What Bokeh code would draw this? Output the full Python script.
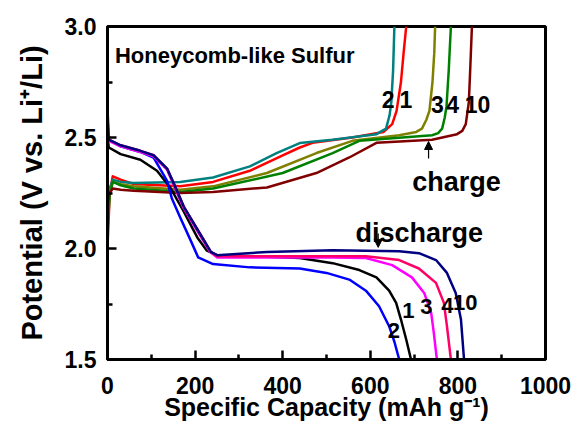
from bokeh.plotting import figure
from bokeh.models import Range1d, FixedTicker, PrintfTickFormatter, Label, Arrow, NormalHead
from bokeh.embed import file_html
from bokeh.resources import INLINE

# ---------------- data ----------------
# discharge curves: capacity (mAh/g) and potential (V)
d1_cap = [0, 3, 30, 75, 113, 143, 173, 205, 227, 250, 330, 439, 514, 575, 614, 643, 659, 670, 682, 693]
d1_v = [2.50, 2.455, 2.425, 2.40, 2.35, 2.275, 2.17, 2.05, 1.99, 1.97, 1.965, 1.957, 1.934, 1.903, 1.87, 1.81, 1.755, 1.68, 1.59, 1.5]

d2_cap = [0, 3, 30, 75, 105, 136, 147, 166, 189, 207, 241, 325, 439, 500, 552, 590, 620, 643, 655, 666]
d2_v = [2.63, 2.49, 2.46, 2.435, 2.41, 2.305, 2.225, 2.14, 2.04, 1.96, 1.93, 1.915, 1.91, 1.89, 1.86, 1.81, 1.74, 1.65, 1.58, 1.5]

d3_cap = [0, 3, 30, 75, 105, 136, 150, 173, 205, 234, 250, 400, 514, 590, 650, 695, 723, 739, 745, 752]
d3_v = [2.60, 2.485, 2.46, 2.435, 2.415, 2.355, 2.29, 2.185, 2.08, 1.985, 1.96, 1.96, 1.96, 1.957, 1.925, 1.87, 1.80, 1.71, 1.62, 1.5]

d4_cap = [0, 3, 30, 75, 105, 136, 152, 175, 207, 236, 250, 439, 590, 666, 711, 750, 768, 775, 784]
d4_v = [2.58, 2.49, 2.465, 2.44, 2.42, 2.36, 2.29, 2.185, 2.08, 1.985, 1.965, 1.965, 1.965, 1.948, 1.91, 1.845, 1.755, 1.65, 1.5]

d10_cap = [0, 3, 30, 75, 105, 136, 152, 175, 207, 236, 250, 364, 514, 666, 711, 750, 775, 795, 807, 814]
d10_v = [2.56, 2.49, 2.465, 2.44, 2.42, 2.36, 2.29, 2.185, 2.08, 1.985, 1.97, 1.984, 1.992, 1.988, 1.979, 1.948, 1.89, 1.80, 1.68, 1.5]

# charge curves
c1_cap = [0, 5, 12, 30, 60, 166, 241, 325, 400, 439, 468, 559, 630, 650, 660, 670, 676, 682]
c1_v = [2.0, 2.25, 2.325, 2.31, 2.29, 2.28, 2.30, 2.35, 2.42, 2.455, 2.476, 2.50, 2.525, 2.56, 2.62, 2.75, 2.88, 3.0]

c2_cap = [0, 5, 12, 30, 60, 166, 241, 325, 386, 439, 514, 614, 636, 644, 648, 652, 655]
c2_v = [2.15, 2.27, 2.31, 2.30, 2.295, 2.30, 2.32, 2.37, 2.43, 2.475, 2.49, 2.515, 2.54, 2.6, 2.66, 2.8, 3.0]

c3_cap = [0, 5, 12, 30, 60, 166, 241, 364, 477, 559, 666, 705, 718, 728, 735, 742, 746, 748]
c3_v = [2.12, 2.25, 2.30, 2.29, 2.28, 2.265, 2.28, 2.34, 2.43, 2.485, 2.51, 2.525, 2.54, 2.58, 2.62, 2.75, 2.88, 3.0]

c4_cap = [0, 5, 12, 30, 60, 166, 241, 400, 514, 575, 741, 755, 764, 770, 774, 779, 784]
c4_v = [2.08, 2.24, 2.30, 2.285, 2.27, 2.255, 2.27, 2.34, 2.43, 2.485, 2.51, 2.52, 2.54, 2.59, 2.64, 2.8, 3.0]

c10_cap = [0, 5, 12, 30, 60, 166, 241, 364, 477, 552, 614, 741, 798, 810, 818, 825, 828, 832]
c10_v = [2.2, 2.25, 2.27, 2.265, 2.26, 2.25, 2.255, 2.275, 2.34, 2.41, 2.476, 2.49, 2.515, 2.53, 2.56, 2.66, 2.8, 3.0]

x_ticks = [0, 200, 400, 600, 800, 1000]
x_minor = [100, 300, 500, 700, 900]
y_ticks = [1.5, 2.0, 2.5, 3.0]
y_minor = [1.75, 2.25, 2.75]

FONT = "Liberation Sans"

p = figure(width=580, height=426, output_backend="svg", toolbar_location=None,
           x_range=Range1d(0, 1000), y_range=Range1d(1.5, 3.0),
           min_border_left=107, min_border_right=35, min_border_top=26, min_border_bottom=67)
p.grid.visible = False
p.outline_line_color = "black"
p.outline_line_width = 3
p.background_fill_color = "white"
p.border_fill_color = "white"

p.xaxis.ticker = FixedTicker(ticks=x_ticks, minor_ticks=x_minor)
p.yaxis.ticker = FixedTicker(ticks=y_ticks, minor_ticks=y_minor)
p.yaxis.formatter = PrintfTickFormatter(format="%.1f")
for ax in (p.xaxis[0], p.yaxis[0]):
    ax.axis_line_width = 3
    ax.major_tick_in = 9
    ax.major_tick_out = 0
    ax.minor_tick_in = 5
    ax.minor_tick_out = 0
    ax.major_tick_line_width = 2.5
    ax.minor_tick_line_width = 2.5
    ax.major_label_text_font = FONT
    ax.major_label_text_font_style = "bold"
    ax.major_label_text_font_size = "23px"
    ax.major_label_text_color = "black"
    ax.axis_label_text_font = FONT
    ax.axis_label_text_font_style = "bold"
    ax.axis_label_text_color = "black"
p.xaxis.major_label_standoff = 17
p.yaxis.major_label_standoff = 11
p.xaxis.axis_label = "Specific Capacity (mAh g\u207b\u00b9)"
p.xaxis.axis_label_text_font_size = "25px"
p.xaxis.axis_label_standoff = -4
p.yaxis.axis_label = "Potential (V vs. Li\u207a/Li)"
p.yaxis.axis_label_text_font_size = "29px"
p.yaxis.axis_label_standoff = 14

LW = 2.5
for xs, ys, col in [(c1_cap, c1_v, "#FF0000"), (c2_cap, c2_v, "#008080"), (c3_cap, c3_v, "#808000"),
                    (c4_cap, c4_v, "#008000"), (c10_cap, c10_v, "#800000")]:
    p.line(xs, ys, line_color=col, line_width=LW, line_join="round")

for xs, ys, col in [(d1_cap, d1_v, "#000000"), (d2_cap, d2_v, "#0000FF"), (d3_cap, d3_v, "#FF00FF"),
                    (d4_cap, d4_v, "#FF0066"), (d10_cap, d10_v, "#000080")]:
    p.line(xs, ys, line_color=col, line_width=LW, line_join="round")


def lab(x, y, t, size, align="center", baseline="middle"):
    p.add_layout(Label(x=x, y=y, text=t, text_font=FONT, text_font_style="bold",
                       text_font_size=size, text_align=align, text_baseline=baseline,
                       text_color="black"))


lab(17, 2.869, "Honeycomb-like Sulfur", "22px", align="left", baseline="alphabetic")

# charge cycle labels
for x, y, t in [(641, 2.67, "2"), (681, 2.67, "1"), (753, 2.65, "3"), (788, 2.65, "4"), (845, 2.65, "10")]:
    lab(x, y, t, "23px")
# discharge cycle labels
for x, y, t in [(654, 1.63, "2"), (687, 1.72, "1"), (728, 1.74, "3"), (776, 1.743, "4"), (817, 1.757, "10")]:
    lab(x, y, t, "22px")

lab(797, 2.30, "charge", "27px", baseline="alphabetic")
lab(712, 2.072, "discharge", "27px", baseline="alphabetic")

p.add_layout(Arrow(x_start=733, y_start=2.405, x_end=733, y_end=2.482, line_width=1.2,
                   end=NormalHead(size=8, fill_color="black", line_color="black")))
p.add_layout(Arrow(x_start=618, y_start=2.068, x_end=618, y_end=2.005, line_width=1.2,
                   end=NormalHead(size=8, fill_color="black", line_color="black")))

open("out.html", "w").write(file_html(p, INLINE))
